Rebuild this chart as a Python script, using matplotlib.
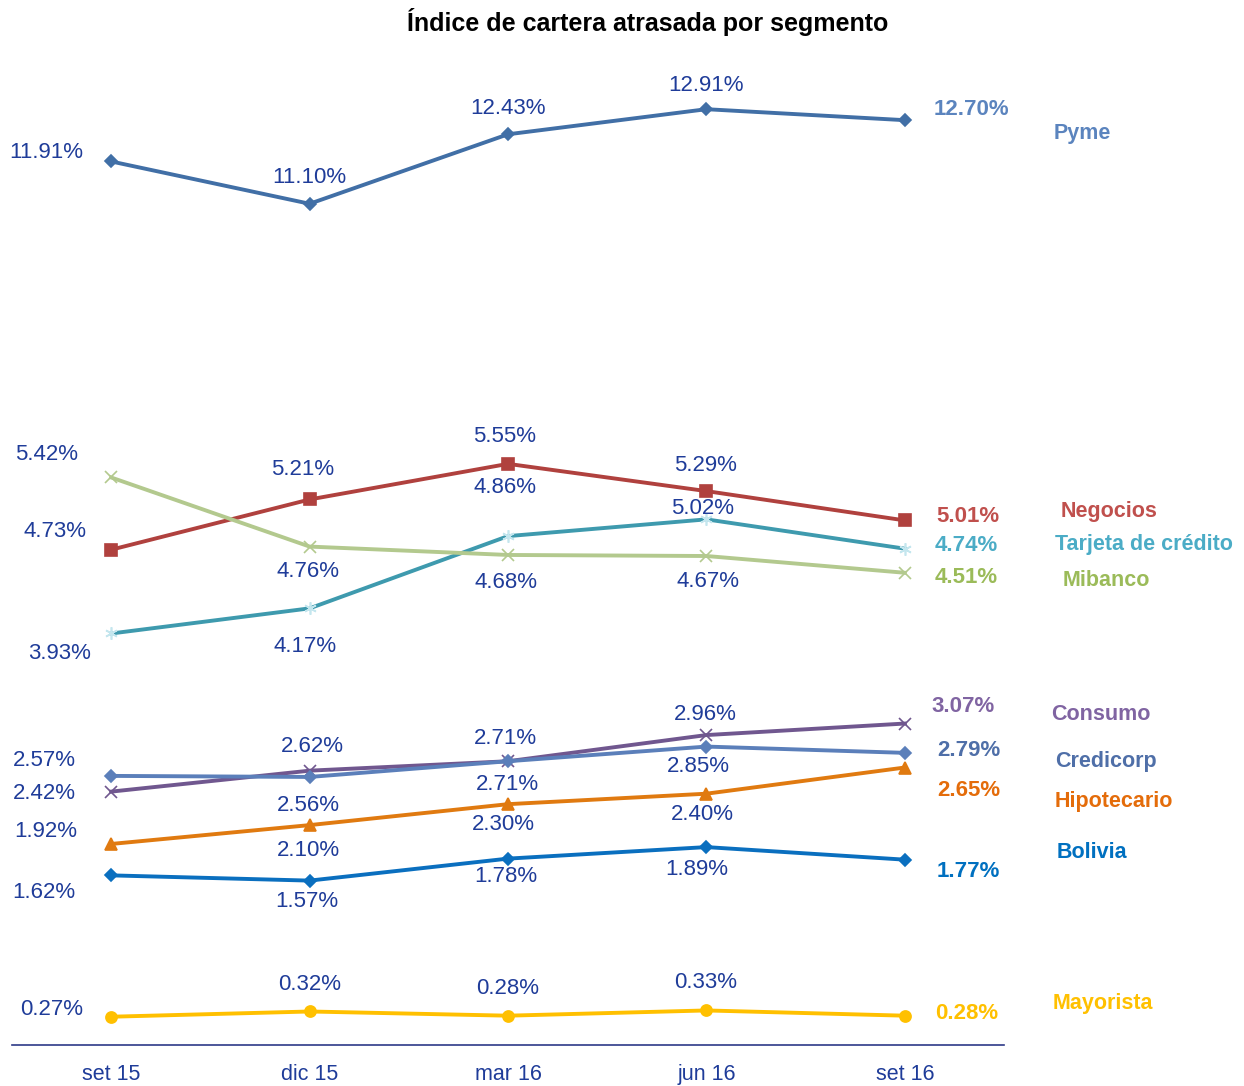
import matplotlib
matplotlib.use("Agg")
import matplotlib.pyplot as plt

plt.rcParams["font.family"] = ["Liberation Sans", "DejaVu Sans"]

periods = ["set 15", "dic 15", "mar 16", "jun 16", "set 16"]

pyme = [11.91, 11.10, 12.43, 12.91, 12.70]
negocios = [4.73, 5.21, 5.55, 5.29, 5.01]
tarjeta = [3.93, 4.17, 4.86, 5.02, 4.74]
mibanco = [5.42, 4.76, 4.68, 4.67, 4.51]
consumo = [2.42, 2.62, 2.71, 2.96, 3.07]
credicorp = [2.57, 2.56, 2.71, 2.85, 2.79]
hipotecario = [1.92, 2.10, 2.30, 2.40, 2.65]
bolivia = [1.62, 1.57, 1.78, 1.89, 1.77]
mayorista = [0.27, 0.32, 0.28, 0.33, 0.28]

LABEL_BLUE = "#1F3C99"
W, H = 1244, 1086

# name, values, color, end-label color, marker, marker kwargs, label offsets (px), name pos (px)
series = [
    ("Pyme", pyme, "#416FA6", "#5B84BE", "D", {},
     [(-65, 9), (0, 26), (0, 26), (0, 24), (67, 11)], (1054, 133)),
    ("Negocios", negocios, "#B0413E", "#C0504D", "s", {},
     [(-56, 18), (-7, 30), (-3, 27), (-1, 26), (63, 4)], (1061, 512)),
    ("Tarjeta de crédito", tarjeta, "#3E9AAE", "#4BACC6", (6, 2, 0),
     {"markeredgecolor": "#C4E6EE", "markerfacecolor": "#C4E6EE"},
     [(-52, -20), (-5, -38), (-3, 49), (-4, 11), (61, 3)], (1055, 544)),
    ("Mibanco", mibanco, "#B3C98E", "#9BBB59", "x", {},
     [(-65, 23), (-2, -25), (-2, -28), (2, -25), (61, -5)], (1063, 581)),
    ("Consumo", consumo, "#70578F", "#8064A2", "x", {},
     [(-67, -2), (3, 24), (-3, 23), (-1, 21), (58, 17)], (1051, 715)),
    ("Credicorp", credicorp, "#5B7FBA", "#4F6FA8", "D", {},
     [(-67, 15), (-1, -29), (-1, -23), (-8, -20), (64, 2)], (1055, 761)),
    ("Hipotecario", hipotecario, "#E07A10", "#E46C0A", "^", {},
     [(-65, 12), (-1, -25), (-5, -20), (-4, -21), (64, -23)], (1055, 802)),
    ("Bolivia", bolivia, "#0A6FBF", "#0070C0", "D", {},
     [(-67, -17), (-3, -21), (-2, -18), (-10, -22), (64, -12)], (1057, 853)),
    ("Mayorista", mayorista, "#FFC000", "#FFC000", "o", {},
     [(-60, 7), (0, 27), (0, 27), (-1, 28), (62, 2)], (1053, 1004)),
]

fig = plt.figure(figsize=(W / 100, H / 100), dpi=100)
ax = fig.add_axes([12 / W, 1 - 1045 / H, 992 / W, 1045 / H])
ax2 = ax.twinx()

ax.set_xlim(-0.5, 4.5)
ax.set_ylim(0, 9.98)
ax2.set_ylim(-5, 15)

x = list(range(len(periods)))
for name, vals, color, end_color, marker, mkw, offsets, name_pos in series:
    target = ax2 if name == "Pyme" else ax
    sizes = {"D": 6.5, "s": 8, "o": 8, "^": 8}
    ms = sizes.get(marker, 9)
    kw = {"markerfacecolor": color, "markeredgecolor": color}
    kw.update(mkw)
    target.plot(x, vals, color=color, linewidth=2.8, marker=marker,
                markersize=ms, markeredgewidth=1.2, zorder=3, **kw)
    for i, (v, (dx, dy)) in enumerate(zip(vals, offsets)):
        last = i == len(vals) - 1
        target.annotate(f"{v:.2f}%", (i, v), xytext=(dx, dy),
                        textcoords="offset pixels", ha="center", va="center",
                        fontsize=16, color=end_color if last else LABEL_BLUE,
                        fontweight="bold" if last else "normal",
                        annotation_clip=False)
    fig.text(name_pos[0] / W, 1 - name_pos[1] / H, name, ha="left",
             va="center", fontsize=15.5, fontweight="bold", color=end_color)

for a in (ax, ax2):
    for side in ("top", "right", "left"):
        a.spines[side].set_visible(False)
    a.set_yticks([])
ax2.spines["bottom"].set_visible(False)
ax.spines["bottom"].set_color("#2E3A87")
ax.spines["bottom"].set_linewidth(1.2)

ax.set_xticks(x)
ax.set_xticklabels(periods, fontsize=15.5, color=LABEL_BLUE)
ax.tick_params(axis="x", length=0, pad=14)

fig.text(648 / W, 1 - 22 / H, "Índice de cartera atrasada por segmento",
         ha="center", va="center", fontsize=18, fontweight="bold")

fig.savefig("out.png", dpi=100)
